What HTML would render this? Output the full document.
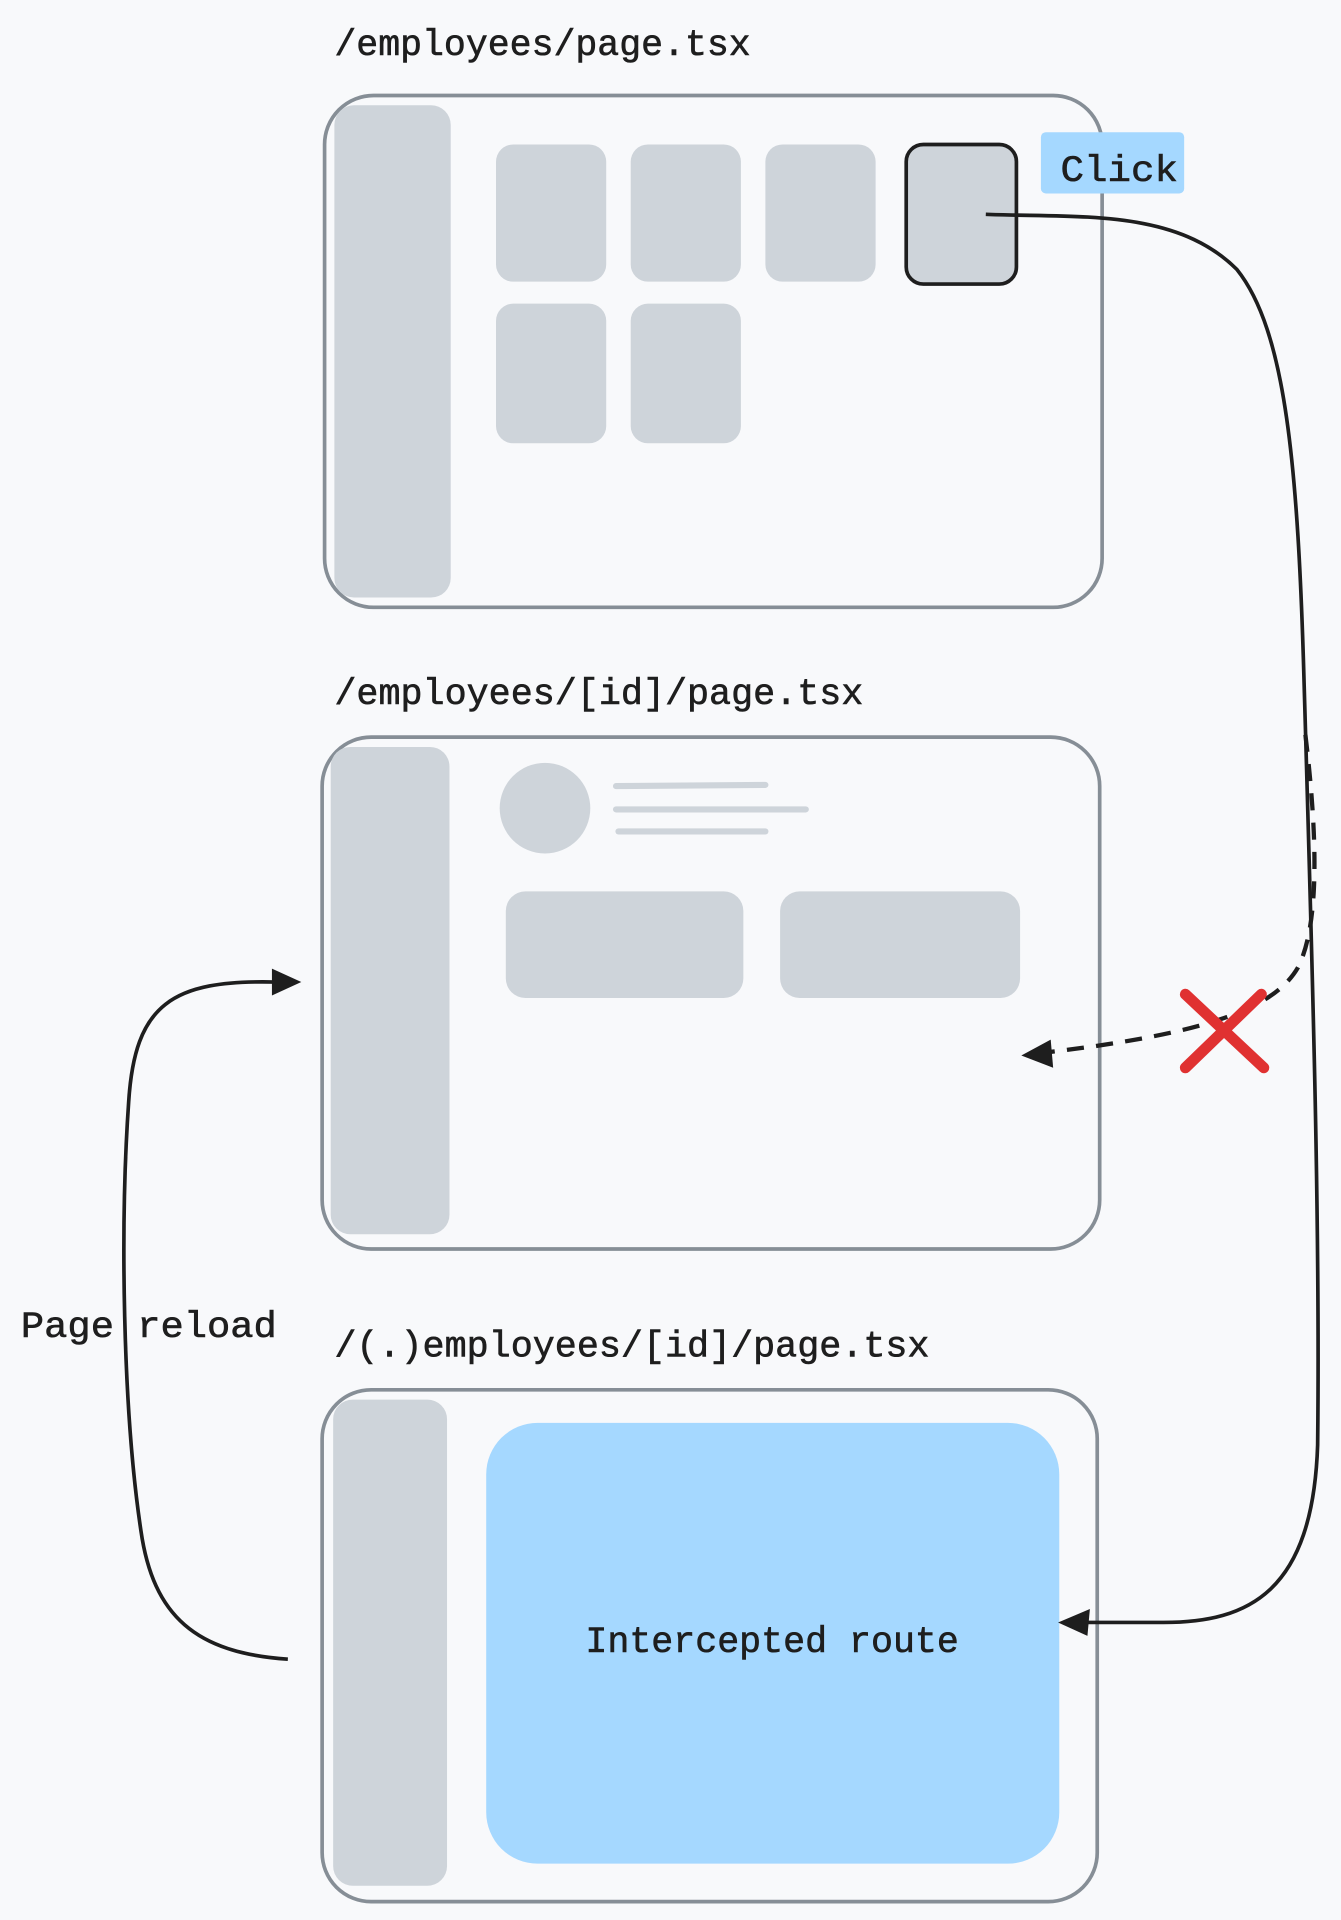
<!DOCTYPE html>
<html><head><meta charset="utf-8"><style>
html,body{margin:0;padding:0;background:#f8f9fb;}
svg{display:block}
text{font-family:"Liberation Mono",monospace;fill:#1e1e1e;font-size:30px;stroke:#1e1e1e;stroke-width:0.5}
</style></head><body>
<svg width="1341" height="1920" viewBox="0 0 1095 1568" xmlns="http://www.w3.org/2000/svg">
<rect width="1095" height="1568" fill="#f8f9fb"/>
<!-- titles -->
<text x="273" y="45" textLength="340" lengthAdjust="spacingAndGlyphs">/employees/page.tsx</text>
<text x="273" y="575" textLength="432" lengthAdjust="spacingAndGlyphs">/employees/[id]/page.tsx</text>
<text x="273" y="1108" textLength="486" lengthAdjust="spacingAndGlyphs">/(.)employees/[id]/page.tsx</text>
<text x="17" y="1092" textLength="209" lengthAdjust="spacingAndGlyphs">Page reload</text>

<!-- box 1 -->
<rect x="265" y="78" width="635" height="418" rx="40" fill="none" stroke="#868e96" stroke-width="3"/>
<rect x="273" y="86" width="95" height="402" rx="16" fill="#ced4da"/>
<g fill="#ced4da">
<rect x="405" y="118" width="90" height="112" rx="14"/>
<rect x="515" y="118" width="90" height="112" rx="14"/>
<rect x="625" y="118" width="90" height="112" rx="14"/>
<rect x="405" y="248" width="90" height="114" rx="14"/>
<rect x="515" y="248" width="90" height="114" rx="14"/>
</g>
<rect x="740" y="118" width="90" height="114" rx="14" fill="#ced4da" stroke="#1e1e1e" stroke-width="3"/>
<rect x="850" y="108" width="117" height="50" rx="4" fill="#a5d8ff"/>
<text x="866" y="148" textLength="96" lengthAdjust="spacingAndGlyphs">Click</text>

<!-- box 2 -->
<rect x="263" y="602" width="635" height="418" rx="40" fill="none" stroke="#868e96" stroke-width="3"/>
<rect x="270" y="610" width="97" height="398" rx="16" fill="#ced4da"/>
<circle cx="445" cy="660" r="37" fill="#ced4da"/>
<g stroke="#ced4da" stroke-width="5" stroke-linecap="round">
<line x1="503" y1="642" x2="625" y2="641"/>
<line x1="503" y1="661" x2="658" y2="661"/>
<line x1="505" y1="679" x2="625" y2="679"/>
</g>
<rect x="413" y="728" width="194" height="87" rx="16" fill="#ced4da"/>
<rect x="637" y="728" width="196" height="87" rx="16" fill="#ced4da"/>

<!-- box 3 -->
<rect x="263" y="1135" width="633" height="418" rx="40" fill="none" stroke="#868e96" stroke-width="3"/>
<rect x="272" y="1143" width="93" height="397" rx="16" fill="#ced4da"/>
<rect x="397" y="1162" width="468" height="360" rx="42" fill="#a5d8ff"/>
<text x="478" y="1349" textLength="305" lengthAdjust="spacingAndGlyphs">Intercepted route</text>

<!-- click arrow -->
<path d="M805 175 C880 178 960 170 1010 220 C1050 270 1060 380 1065 560 C1072 800 1078 1000 1076 1180 C1072 1300 1020 1325 950 1325 L872 1325" fill="none" stroke="#1e1e1e" stroke-width="3"/>
<polygon points="864,1325 890,1314 888,1336" fill="#1e1e1e"/>

<!-- dashed arrow -->
<path d="M1066 600 C1078 700 1075 760 1060 790 C1040 825 980 845 850 860" fill="none" stroke="#1e1e1e" stroke-width="3.5" stroke-dasharray="14 10"/>
<polygon points="834,862 858,849 860,872" fill="#1e1e1e"/>

<!-- red X -->
<g stroke="#e03131" stroke-width="9" stroke-linecap="round">
<line x1="968" y1="812" x2="1032" y2="872"/>
<line x1="1030" y1="812" x2="968" y2="872"/>
</g>

<!-- page reload arrow -->
<path d="M235 1355 C160 1350 125 1320 115 1250 C100 1150 98 1000 105 900 C110 820 140 800 225 802" fill="none" stroke="#1e1e1e" stroke-width="3"/>
<polygon points="246,802 222,791 222,813" fill="#1e1e1e"/>
</svg>
</body></html>
